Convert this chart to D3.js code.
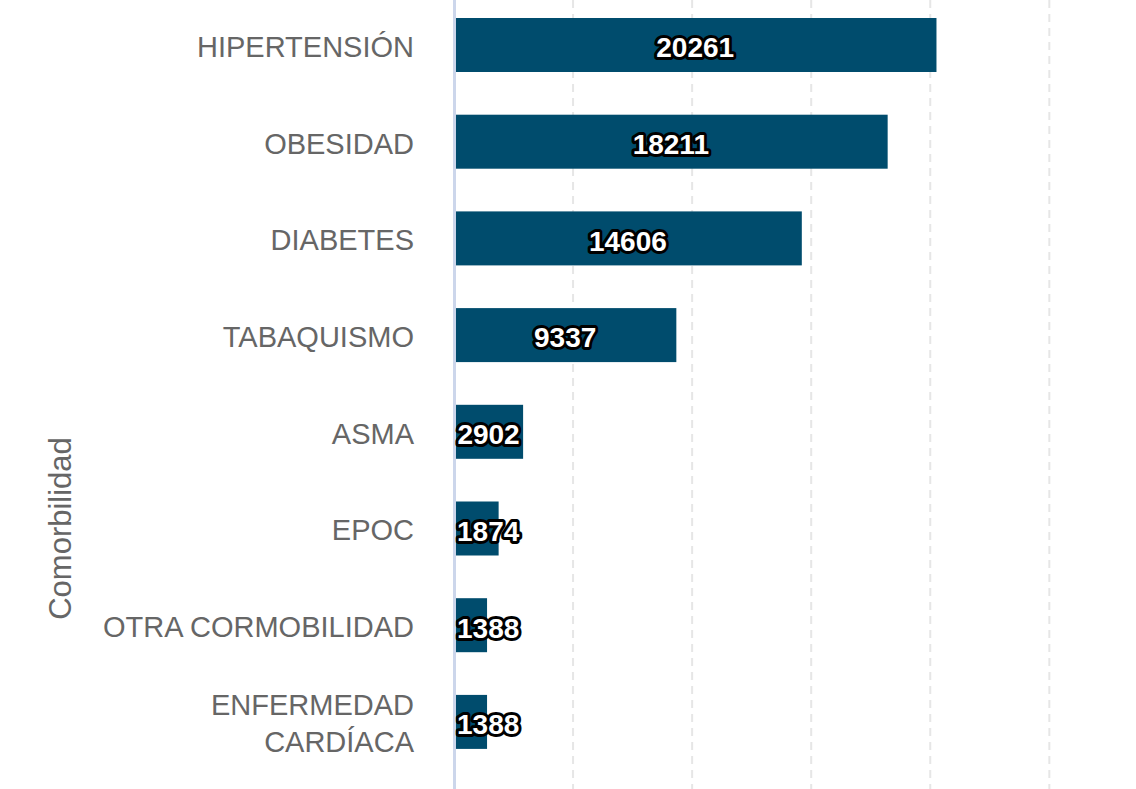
<!DOCTYPE html>
<html>
<head>
<meta charset="utf-8">
<script src="https://cdn.jsdelivr.net/npm/d3@7"></script>
<style>
  html, body { margin: 0; padding: 0; background: #ffffff; overflow: hidden; }
  svg { display: block; font-family: "Liberation Sans", Arial, sans-serif; }
</style>
</head>
<body>
<svg id="chart" width="1136" height="789"></svg>
<script>
const categories = ["HIPERTENSIÓN", "OBESIDAD", "DIABETES", "TABAQUISMO", "ASMA", "EPOC", "OTRA CORMOBILIDAD", "ENFERMEDAD CARDÍACA"];
const categoryLines = [["HIPERTENSIÓN"], ["OBESIDAD"], ["DIABETES"], ["TABAQUISMO"], ["ASMA"], ["EPOC"], ["OTRA CORMOBILIDAD"], ["ENFERMEDAD", "CARDÍACA"]];
const values = [20261, 18211, 14606, 9337, 2902, 1874, 1388, 1388];
const gridTicks = [5000, 10000, 15000, 20000, 25000];
const axisTitle = "Comorbilidad";

const W = 1136, H = 789;
const svg = d3.select("#chart");

const x = d3.scaleLinear().domain([0, 28640]).range([454, 1136]);
const y = d3.scaleBand().domain(categories).range([-3.35, 770.25]).paddingInner(0.4416).paddingOuter(0.2208);

// grid lines
svg.append("g").selectAll("line").data(gridTicks).join("line")
  .attr("x1", d => x(d)).attr("x2", d => x(d))
  .attr("y1", 0).attr("y2", H)
  .attr("stroke", "#e6e6e6").attr("stroke-width", 2)
  .attr("stroke-dasharray", "8,6");

// bars
svg.append("g").selectAll("rect").data(values).join("rect")
  .attr("x", x(0))
  .attr("y", (d, i) => y(categories[i]))
  .attr("width", d => x(d) - x(0))
  .attr("height", y.bandwidth())
  .attr("fill", "#004c6d");

// y axis line
svg.append("line")
  .attr("x1", 454.5).attr("x2", 454.5).attr("y1", 0).attr("y2", H)
  .attr("stroke", "#ccd6eb").attr("stroke-width", 3);

// category labels
const lineH = 37;
const lab = svg.append("g").selectAll("text").data(categories).join("text")
  .attr("text-anchor", "end")
  .attr("fill", "#666666")
  .style("font-size", "29px");
lab.each(function(c, i) {
  const lines = categoryLines[i];
  const cy = y(c) + y.bandwidth() / 2;
  const t = d3.select(this);
  lines.forEach((ln, k) => {
    t.append("tspan")
      .attr("x", 414)
      .attr("y", cy + (k - (lines.length - 1) / 2) * lineH)
      .attr("dy", "0.41em")
      .text(ln);
  });
});

// data labels
const dl = svg.append("g").selectAll("text").data(values).join("text")
  .attr("text-anchor", "middle")
  .attr("y", (d, i) => y(categories[i]) + y.bandwidth() / 2)
  .attr("dy", "0.44em")
  .attr("fill", "#ffffff")
  .attr("stroke", "#000000")
  .attr("stroke-width", 6)
  .attr("stroke-linejoin", "round")
  .attr("paint-order", "stroke")
  .style("font-size", "28px")
  .style("font-weight", "bold")
  .text(d => d);
dl.each(function(d) {
  const w = this.getComputedTextLength();
  const cx = (x(0) + x(d)) / 2;
  d3.select(this).attr("x", Math.max(cx, 456 + w / 2 + 1));
});

// axis title
svg.append("text")
  .attr("transform", `translate(71,528.5) rotate(-90)`)
  .attr("text-anchor", "middle")
  .attr("fill", "#666666")
  .style("font-size", "31px")
  .text(axisTitle);
</script>
</body>
</html>
